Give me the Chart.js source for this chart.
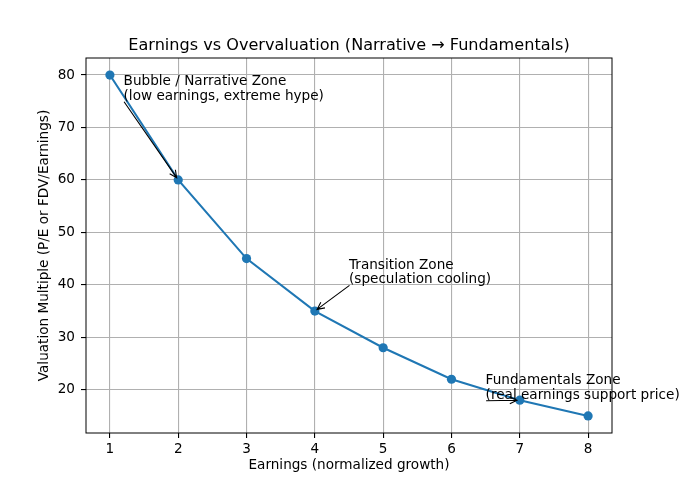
<!DOCTYPE html>
<html><head><meta charset="utf-8">
<script src="https://cdn.jsdelivr.net/npm/chart.js@4"></script>
<style>html,body{margin:0;padding:0;background:#fff}canvas{display:block}</style>
</head><body>
<canvas id="c" width="680" height="486"></canvas>
<script>
const earnings = [1, 2, 3, 4, 5, 6, 7, 8];
const multiples = [80, 60, 45, 35, 28, 22, 18, 15];
const xTicks = [1, 2, 3, 4, 5, 6, 7, 8];
const yTicks = [20, 30, 40, 50, 60, 70, 80];
const titleText = 'Earnings vs Overvaluation (Narrative → Fundamentals)';
const xLabel = 'Earnings (normalized growth)';
const yLabel = 'Valuation Multiple (P/E or FDV/Earnings)';
const annLabels = [
  ['Bubble / Narrative Zone', '(low earnings, extreme hype)'],
  ['Transition Zone', '(speculation cooling)'],
  ['Fundamentals Zone', '(real earnings support price)']
];
const annText = [[1.2, 75], [4.5, 40], [6.5, 18]];
const annTarget = [[2, 60], [4, 35], [7, 18]];

const FONT = '"DejaVu Sans", sans-serif';
const FS = 13.6;

const overlay = {
  id: 'overlay',
  afterDraw(chart) {
    const {ctx, chartArea: a, scales: {x, y}} = chart;
    ctx.save();
    ctx.strokeStyle = '#000';
    ctx.lineWidth = 1;
    ctx.strokeRect(a.left, a.top, a.right - a.left, a.bottom - a.top);
    ctx.fillStyle = '#000';
    ctx.font = '16.1px ' + FONT;
    ctx.textAlign = 'center';
    ctx.textBaseline = 'alphabetic';
    ctx.fillText(titleText, (a.left + a.right) / 2, a.top - 8.3);
    ctx.font = FS + 'px ' + FONT;
    ctx.textAlign = 'left';
    annLabels.forEach((lines, i) => {
      const tx = x.getPixelForValue(annText[i][0]);
      const ty = y.getPixelForValue(annText[i][1]);
      lines.forEach((l, j) => ctx.fillText(l, tx, ty - 1.5 - (lines.length - 1 - j) * 14.8));
      const sx = tx + 0.5, sy = ty + 0.5;
      const px = x.getPixelForValue(annTarget[i][0]);
      const py = y.getPixelForValue(annTarget[i][1]);
      const ang = Math.atan2(py - sy, px - sx);
      const ex = px - 2.8 * Math.cos(ang), ey = py - 2.8 * Math.sin(ang);
      ctx.lineWidth = 1.1;
      ctx.beginPath();
      ctx.moveTo(sx, sy);
      ctx.lineTo(ex, ey);
      const hl = 8, hw = 0.45;
      ctx.moveTo(ex - hl * Math.cos(ang - hw), ey - hl * Math.sin(ang - hw));
      ctx.lineTo(ex, ey);
      ctx.lineTo(ex - hl * Math.cos(ang + hw), ey - hl * Math.sin(ang + hw));
      ctx.stroke();
    });
    ctx.restore();
  }
};

new Chart(document.getElementById('c'), {
  type: 'line',
  data: {
    datasets: [{
      data: earnings.map((e, i) => ({x: e, y: multiples[i]})),
      borderColor: '#1f77b4',
      backgroundColor: '#1f77b4',
      borderWidth: 2.08,
      pointRadius: 4.6,
      pointBorderWidth: 0,
      pointBackgroundColor: '#1f77b4',
      tension: 0,
      fill: false
    }]
  },
  options: {
    responsive: false,
    devicePixelRatio: 1,
    animation: false,
    layout: {padding: {top: 58, right: 68, left: 0, bottom: 0}},
    plugins: {legend: {display: false}, tooltip: {enabled: false}, title: {display: false}},
    scales: {
      x: {
        type: 'linear',
        min: 0.65, max: 8.35,
        afterBuildTicks: s => { s.ticks = xTicks.map(v => ({value: v})); },
        afterFit: s => { s.height = 53; },
        ticks: {color: '#000', font: {family: FONT, size: FS}, padding: 3.5, maxRotation: 0, callback: v => String(v)},
        grid: {color: '#b0b0b0', lineWidth: 1.1, tickColor: '#000', tickLength: 5, drawTicks: true},
        border: {display: false},
        title: {display: true, text: xLabel, color: '#000', font: {family: FONT, size: FS}, padding: {top: 0, bottom: 12}}
      },
      y: {
        type: 'linear',
        min: 11.75, max: 83.25,
        afterBuildTicks: s => { s.ticks = yTicks.map(v => ({value: v})); },
        afterFit: s => { s.width = 86; },
        ticks: {color: '#000', font: {family: FONT, size: FS}, padding: 6, callback: v => String(v)},
        grid: {color: '#b0b0b0', lineWidth: 1.1, tickColor: '#000', tickLength: 5, drawTicks: true},
        border: {display: false},
        title: {display: true, text: yLabel, color: '#000', font: {family: FONT, size: FS}, padding: {top: 36.5, bottom: 0}}
      }
    }
  },
  plugins: [overlay]
});
</script>
</body></html>
